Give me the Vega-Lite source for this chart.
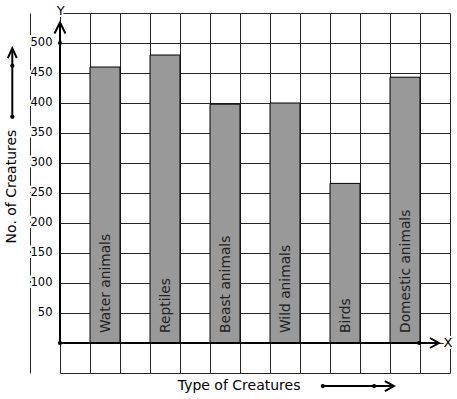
{
  "$schema": "https://vega.github.io/schema/vega-lite/v6.json",
  "width": 420,
  "height": 360,
  "autosize": {"type": "none"},
  "padding": {"left": 30, "top": 13, "right": 7, "bottom": 26},
  "background": "white",
  "config": {
    "view": {"stroke": null},
    "axis": {"labels": false, "ticks": false, "domain": false, "grid": true, "gridColor": "#262626", "gridOpacity": 1, "gridWidth": 1, "title": null},
    "axisX": {"values": [-1, 0, 1, 2, 3, 4, 5, 6, 7, 8, 9, 10, 11, 12, 13]},
    "axisY": {"values": [-50, 0, 50, 100, 150, 200, 250, 300, 350, 400, 450, 500, 550]},
    "text": {"font": "DejaVu Sans"}
  },
  "datasets": {
    "creatures": [
      {"creature": "Water animals", "count": 460},
      {"creature": "Reptiles", "count": 480},
      {"creature": "Beast animals", "count": 398},
      {"creature": "Wild animals", "count": 400},
      {"creature": "Birds", "count": 266},
      {"creature": "Domestic animals", "count": 443}
    ],
    "ticks": [
      {"label": 50}, {"label": 100}, {"label": 150}, {"label": 200}, {"label": 250},
      {"label": 300}, {"label": 350}, {"label": 400}, {"label": 450}, {"label": 500}
    ]
  },
  "resolve": {"scale": {"x": "independent"}},
  "layer": [
    {
      "data": {"name": "creatures"},
      "layer": [
        {
          "mark": {"type": "bar", "fill": "#999999", "stroke": "black", "strokeWidth": 1},
          "encoding": {
            "x": {"field": "creature", "type": "nominal", "sort": null, "axis": null,
                  "scale": {"type": "band", "range": [30, 420], "paddingInner": 0.5, "paddingOuter": 0.5}},
            "y": {"field": "count", "type": "quantitative", "title": null, "scale": {"domain": [-50, 550], "nice": false, "zero": false}},
            "y2": {"datum": 0}
          }
        },
        {
          "mark": {"type": "text", "angle": -90, "align": "left", "baseline": "middle", "fontSize": 13.8, "color": "#222222", "dy": 1},
          "encoding": {
            "x": {"field": "creature", "type": "nominal", "sort": null, "axis": null,
                  "scale": {"type": "band", "range": [30, 420], "paddingInner": 0.5, "paddingOuter": 0.5}},
            "y": {"datum": 16.7, "type": "quantitative", "scale": {"domain": [-50, 550], "nice": false, "zero": false}},
            "text": {"field": "creature"}
          }
        }
      ]
    },
    {
      "data": {"values": [{}]},
      "layer": [
        {
          "mark": {"type": "rule", "color": "black", "strokeWidth": 2},
          "encoding": {
            "x": {"datum": 0, "type": "quantitative", "scale": {"domain": [-1, 13], "nice": false, "zero": false},
                  "axis": {"grid": true, "orient": "bottom", "labels": false, "ticks": false, "domain": false, "title": null}},
            "y": {"datum": 0, "type": "quantitative", "scale": {"domain": [-50, 550], "nice": false, "zero": false}},
            "y2": {"datum": 535}
          }
        },
        {
          "mark": {"type": "rule", "color": "black", "strokeWidth": 2},
          "encoding": {"x": {"datum": 0}, "x2": {"datum": 12.6}, "y": {"datum": 0}}
        },
        {
          "mark": {"type": "rule", "color": "black", "strokeWidth": 2},
          "encoding": {"x": {"datum": -1.59}, "y": {"datum": 377}, "y2": {"datum": 490}}
        },
        {
          "mark": {"type": "rule", "color": "black", "strokeWidth": 2},
          "encoding": {"x": {"datum": 8.76}, "x2": {"datum": 11.1}, "y": {"datum": -71.7}}
        },
        {
          "mark": {"type": "point", "filled": true, "color": "black", "opacity": 1, "size": 18},
          "encoding": {"x": {"datum": 0}, "y": {"datum": 500}}
        },
        {
          "mark": {"type": "point", "filled": true, "color": "black", "opacity": 1, "size": 18},
          "encoding": {"x": {"datum": 0}, "y": {"datum": 0}}
        },
        {
          "mark": {"type": "point", "filled": true, "color": "black", "opacity": 1, "size": 18},
          "encoding": {"x": {"datum": 11.97}, "y": {"datum": 0}}
        },
        {
          "mark": {"type": "point", "filled": true, "color": "black", "opacity": 1, "size": 18},
          "encoding": {"x": {"datum": -1.59}, "y": {"datum": 377}}
        },
        {
          "mark": {"type": "point", "filled": true, "color": "black", "opacity": 1, "size": 18},
          "encoding": {"x": {"datum": -1.59}, "y": {"datum": 462}}
        },
        {
          "mark": {"type": "point", "filled": true, "color": "black", "opacity": 1, "size": 18},
          "encoding": {"x": {"datum": 8.76}, "y": {"datum": -71.7}}
        },
        {
          "mark": {"type": "point", "filled": true, "color": "black", "opacity": 1, "size": 18},
          "encoding": {"x": {"datum": 10.47}, "y": {"datum": -71.7}}
        },
        {
          "mark": {"type": "point", "filled": false, "color": "black", "opacity": 1, "strokeWidth": 2, "size": 121, "shape": "M-1,1L0,-1L1,1"},
          "encoding": {"x": {"datum": 0}, "y": {"datum": 525}}
        },
        {
          "mark": {"type": "point", "filled": false, "color": "black", "opacity": 1, "strokeWidth": 2, "size": 100, "shape": "M-0.9,-1L0.9,0L-0.9,1"},
          "encoding": {"x": {"datum": 12.48}, "y": {"datum": 0}}
        },
        {
          "mark": {"type": "point", "filled": false, "color": "black", "opacity": 1, "strokeWidth": 2, "size": 100, "shape": "M-0.9,1L0,-1L0.9,1"},
          "encoding": {"x": {"datum": -1.59}, "y": {"datum": 483}}
        },
        {
          "mark": {"type": "point", "filled": false, "color": "black", "opacity": 1, "strokeWidth": 2, "size": 100, "shape": "M-0.9,-1L0.9,0L-0.9,1"},
          "encoding": {"x": {"datum": 10.98}, "y": {"datum": -71.7}}
        },
        {
          "data": {"name": "ticks"},
          "mark": {"type": "text", "align": "right", "baseline": "middle", "fontSize": 11.5, "fill": "white", "stroke": "white", "strokeWidth": 4},
          "encoding": {"x": {"datum": -0.25}, "y": {"field": "label", "type": "quantitative"}, "text": {"field": "label"}}
        },
        {
          "data": {"name": "ticks"},
          "mark": {"type": "text", "align": "right", "baseline": "middle", "fontSize": 11.5, "color": "black"},
          "encoding": {"x": {"datum": -0.25}, "y": {"field": "label", "type": "quantitative"}, "text": {"field": "label"}}
        },
        {
          "mark": {"type": "text", "align": "center", "baseline": "alphabetic", "fontSize": 13, "fill": "white", "stroke": "white", "strokeWidth": 4, "text": "Y"},
          "encoding": {"x": {"datum": 0.02}, "y": {"datum": 546.7}}
        },
        {
          "mark": {"type": "text", "align": "center", "baseline": "alphabetic", "fontSize": 13, "color": "black", "text": "Y"},
          "encoding": {"x": {"datum": 0.02}, "y": {"datum": 546.7}}
        },
        {
          "mark": {"type": "text", "align": "center", "baseline": "middle", "fontSize": 13, "fill": "white", "stroke": "white", "strokeWidth": 4, "text": "X"},
          "encoding": {"x": {"datum": 12.93}, "y": {"datum": 0}}
        },
        {
          "mark": {"type": "text", "align": "center", "baseline": "middle", "fontSize": 13, "color": "black", "text": "X"},
          "encoding": {"x": {"datum": 12.93}, "y": {"datum": 0}}
        },
        {
          "mark": {"type": "text", "align": "center", "baseline": "middle", "angle": -90, "fontSize": 14, "color": "black", "text": "No. of Creatures"},
          "encoding": {"x": {"datum": -1.6}, "y": {"datum": 260.8}}
        },
        {
          "mark": {"type": "text", "align": "center", "baseline": "alphabetic", "fontSize": 14, "color": "black", "text": "Type of Creatures"},
          "encoding": {"x": {"datum": 5.97}, "y": {"datum": -78.3}}
        }
      ]
    }
  ]
}
